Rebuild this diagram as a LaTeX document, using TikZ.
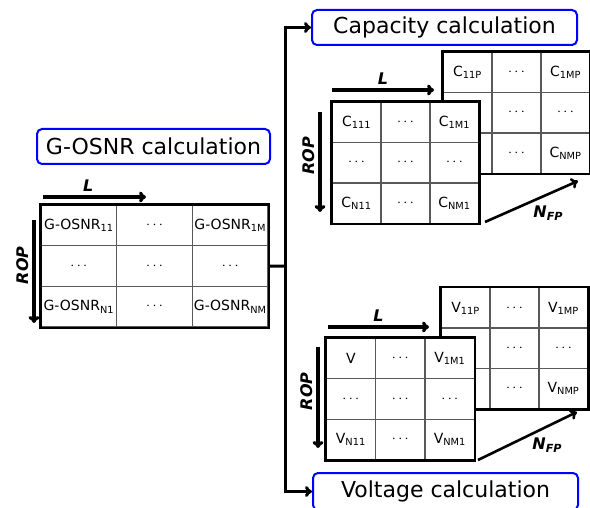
\documentclass[tikz,border=0pt]{standalone}
\usepackage{fontspec}
\setmainfont{DejaVu Sans}
\usetikzlibrary{arrows.meta,positioning}

\tikzset{
  calcbox/.style={draw=blue,line width=2pt,rounded corners=5pt,minimum height=35pt,
    font=\fontsize{22}{25}\selectfont},
  cell/.style={draw=black!65,line width=1.3pt,fill=white,minimum width=49pt,
    minimum height=40.5pt,inner sep=0pt,font=\fontsize{14}{16}\selectfont},
  wcell/.style={cell,minimum width=75.7pt,minimum height=40.7pt,font=\fontsize{14}{16}\selectfont},
  frame/.style={draw,line width=2.4pt},
  axis/.style={-{To[length=7pt,width=11pt]},line width=3.2pt},
  axlabel/.style={font=\fontsize{16}{18}\selectfont\bfseries\itshape},
  link/.style={line width=3pt},
}

\begin{document}
\begin{tikzpicture}[x=1pt,y=-1pt]
\useasboundingbox (0,0) rectangle (590,508);

% G-OSNR matrix
\node[calcbox,minimum width=233pt] (gtitle) at (153.5,146.5) {G-OSNR calculation};
\begin{scope}[shift={(41,205)}]
\foreach \a/\b/\c [count=\r] in {G-OSNR\textsubscript{11}/$\cdots$/G-OSNR\textsubscript{1M},
    $\cdots$/$\cdots$/$\cdots$, G-OSNR\textsubscript{N1}/$\cdots$/G-OSNR\textsubscript{NM}}{
  \node[wcell] (g\r1) at (37.85,{(\r-0.5)*40.7}) {\a};
  \node[wcell] (g\r2) at (113.55,{(\r-0.5)*40.7}) {\b};
  \node[wcell] (g\r3) at (189.25,{(\r-0.5)*40.7}) {\c};
}
\end{scope}
\draw[frame] (g11.north west) rectangle (g33.south east);
\coordinate (gl1) at (43,197);
\coordinate (gl2) at (146,197);
\coordinate (gr1) at (34,220);
\coordinate (gr2) at (34,323);
\draw[axis] (gl1) -- node[above=1pt,axlabel,pos=0.44]{L} (gl2);
\draw[axis] (gr1) -- node[rotate=90,above=1pt,axlabel,pos=0.45]{ROP} (gr2);

% capacity matrices
\node[calcbox,minimum width=265pt] (cap) at (444.5,27.5) {Capacity calculation};
\begin{scope}[shift={(443,52)}]
\foreach \a/\b/\c [count=\r] in {C\textsubscript{11P}/$\cdots$/C\textsubscript{1MP},
    /$\cdots$/$\cdots$, /$\cdots$/C\textsubscript{NMP}}{
  \node[cell] (cb\r1) at (24.5,{(\r-0.5)*40.5}) {\a};
  \node[cell] (cb\r2) at (73.5,{(\r-0.5)*40.5}) {\b};
  \node[cell] (cb\r3) at (122.5,{(\r-0.5)*40.5}) {\c};
}
\end{scope}
\draw[frame] (cb11.north west) rectangle (cb33.south east);
\begin{scope}[shift={(332,102)}]
\foreach \a/\b/\c [count=\r] in {C\textsubscript{111}/$\cdots$/C\textsubscript{1M1},
    $\cdots$/$\cdots$/$\cdots$, C\textsubscript{N11}/$\cdots$/C\textsubscript{NM1}}{
  \node[cell] (cf\r1) at (24.5,{(\r-0.5)*40.5}) {\a};
  \node[cell] (cf\r2) at (73.5,{(\r-0.5)*40.5}) {\b};
  \node[cell] (cf\r3) at (122.5,{(\r-0.5)*40.5}) {\c};
}
\end{scope}
\draw[frame] (cf11.north west) rectangle (cf33.south east);
\coordinate (cl1) at (332,90);
\coordinate (cl2) at (434,90);
\coordinate (cr1) at (320,112);
\coordinate (cr2) at (320,212);
\coordinate (cn1) at (485,222);
\coordinate (cn2) at (578,181);
\draw[axis] (cl1) -- node[above=1pt,axlabel]{L} (cl2);
\draw[axis] (cr1) -- node[rotate=90,above=1pt,axlabel,pos=0.45]{ROP} (cr2);
\draw[axis,line width=2.6pt] (cn1) -- node[axlabel,pos=0.68,below=7pt]{N\textsubscript{FP}} (cn2);

% voltage matrices
\node[calcbox,minimum width=265pt,minimum height=37pt] (volt) at (445.5,491.5) {Voltage calculation};
\begin{scope}[shift={(441,288)}]
\foreach \a/\b/\c [count=\r] in {V\textsubscript{11P}/$\cdots$/V\textsubscript{1MP},
    /$\cdots$/$\cdots$, /$\cdots$/V\textsubscript{NMP}}{
  \node[cell] (vb\r1) at (24.5,{(\r-0.5)*40.2}) {\a};
  \node[cell] (vb\r2) at (73.5,{(\r-0.5)*40.2}) {\b};
  \node[cell] (vb\r3) at (122.5,{(\r-0.5)*40.2}) {\c};
}
\end{scope}
\draw[frame] (vb11.north west) rectangle (vb33.south east);
\begin{scope}[shift={(326,338)}]
\foreach \a/\b/\c [count=\r] in {V/$\cdots$/V\textsubscript{1M1},
    $\cdots$/$\cdots$/$\cdots$, V\textsubscript{N11}/$\cdots$/V\textsubscript{NM1}}{
  \node[cell] (vf\r1) at (24.8,{(\r-0.5)*40.7}) {\a};
  \node[cell] (vf\r2) at (74.3,{(\r-0.5)*40.7}) {\b};
  \node[cell] (vf\r3) at (123.8,{(\r-0.5)*40.7}) {\c};
}
\end{scope}
\draw[frame] (vf11.north west) rectangle (vf33.south east);
\coordinate (vl1) at (328,327);
\coordinate (vl2) at (429,327);
\coordinate (vr1) at (318,347);
\coordinate (vr2) at (318,448);
\coordinate (vn1) at (478,460);
\coordinate (vn2) at (577,412);
\draw[axis] (vl1) -- node[above=1pt,axlabel]{L} (vl2);
\draw[axis] (vr1) -- node[rotate=90,above=1pt,axlabel,pos=0.45]{ROP} (vr2);
\draw[axis,line width=2.6pt] (vn1) -- node[axlabel,pos=0.7,below=7pt]{N\textsubscript{FP}} (vn2);

% connectors
\coordinate (split) at (285,266);
\draw[link] (g23.east) -- (split);
\draw[link,-{To[length=7pt,width=11pt]}] (split) |- (cap.west);
\draw[link,-{To[length=7pt,width=11pt]}] (split) |- (volt.west);
\end{tikzpicture}
\end{document}
